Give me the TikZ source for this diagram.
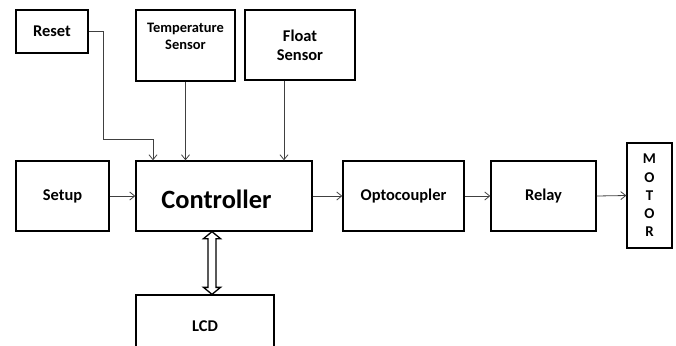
\documentclass[tikz,border=0pt]{standalone}
\usepackage{fontspec}
\setmainfont{Carlito}
\usetikzlibrary{arrows.meta,calc}
\begin{document}
\begin{tikzpicture}[x=1bp,y=-1bp,
  box/.style={draw=black,line width=1.3bp,fill=white,inner sep=0pt,font=\bfseries\fontsize{16.5}{19}\selectfont,align=center},
  conn/.style={draw=black!75,line width=0.8bp,-{Straight Barb[length=5bp,width=8bp]}},
  dblarrow/.style={draw=black,line width=1.3bp,fill=white,line join=miter}]
\useasboundingbox (0,0) rectangle (676,345);
% boxes
\node[box,minimum width=72bp,minimum height=43bp] (reset) at (52,31.5) {Reset};
\node[box,minimum width=99bp,minimum height=71bp] (temp) at (185.5,45.5) {};
\node[font=\bfseries\fontsize{14.5}{17}\selectfont,align=center] (templbl) at (185.5,36.5) {Temperature\\Sensor};
\node[box,minimum width=110bp,minimum height=70bp] (float) at (300,45) {Float\\Sensor};
\node[box,minimum width=93bp,minimum height=70bp] (setup) at (62.5,196) {Setup};
\node[box,minimum width=176bp,minimum height=70bp] (ctrl) at (224,196) {};
\node[font=\bfseries\fontsize{26.5}{30}\selectfont] (ctrllbl) at (216.5,199) {Controller};
\node[box,minimum width=138bp,minimum height=62bp] (lcd) at (205,326) {LCD};
\node[box,minimum width=121bp,minimum height=70bp] (opto) at (403.5,196) {Optocoupler};
\node[box,minimum width=105bp,minimum height=70bp] (relay) at (543.5,196) {Relay};
\node[box,minimum width=45bp,minimum height=105bp,font=\bfseries\fontsize{15}{18.3}\selectfont] (motor) at (649.5,195.5) {M\\O\\T\\O\\R};
% connectors
\coordinate (rbend) at (153,139);
\draw[conn] (reset.east) -- ++(15,0) |- (rbend) -- (rbend |- ctrl.north);
\draw[conn] (temp.south) -- (temp.south |- ctrl.north);
\coordinate (fout) at ([xshift=-16bp]float.south);
\draw[conn] (fout) -- (fout |- ctrl.north);
\draw[conn] (setup.east) -- (ctrl.west);
\draw[conn] (ctrl.east) -- (opto.west);
\draw[conn] (opto.east) -- (relay.west);
\draw[conn] (relay.east) -- (motor.west);
% hollow double arrow controller <-> LCD
\coordinate (dt) at ([xshift=-12bp]ctrl.south);
\coordinate (db) at (dt |- lcd.north);
\draw[dblarrow] (dt) -- ++(8.5,7) -- ++(-4.5,0) -- ($(db)+(4,-7)$) -- ++(4.5,0) -- (db)
  -- ++(-8.5,-7) -- ++(4.5,0) -- ($(dt)+(-4,7)$) -- ++(-4.5,0) -- cycle;
\end{tikzpicture}
\end{document}
